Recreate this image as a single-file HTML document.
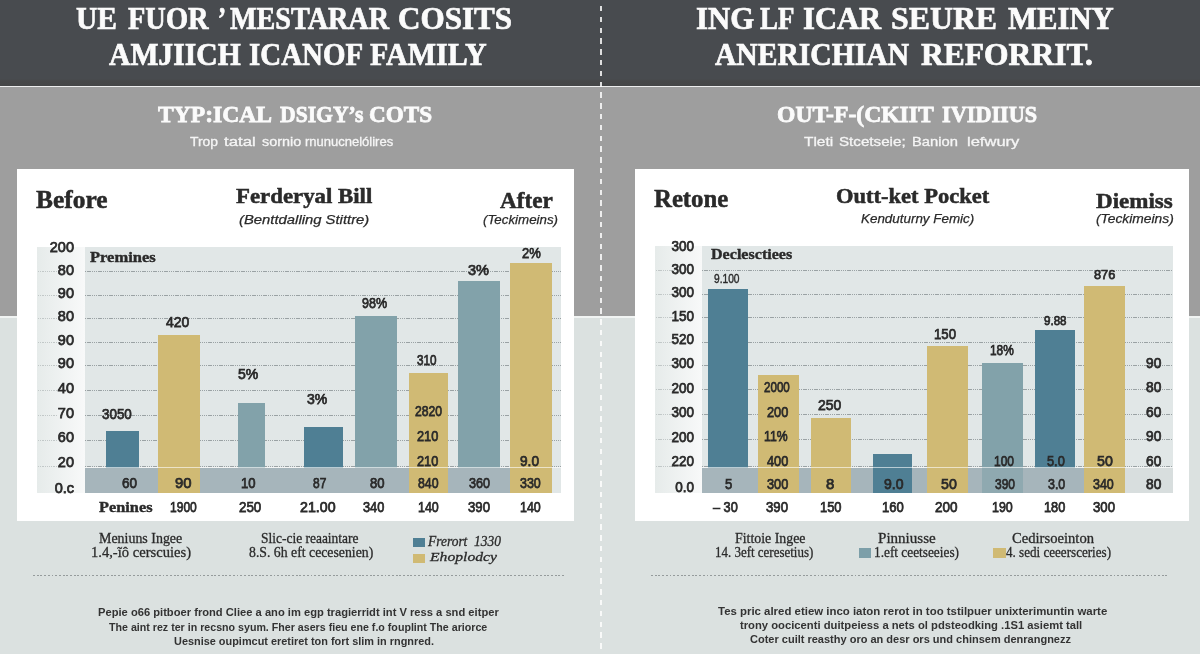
<!DOCTYPE html>
<html lang="en"><head><meta charset="utf-8"><title>Costs infographic</title>
<style>
html,body{margin:0;padding:0}
body{width:1200px;height:654px;position:relative;overflow:hidden;background:#dbe1e0;font-family:"Liberation Sans", sans-serif;color:#2a2a2a}
.r{position:absolute}
.t{position:absolute;white-space:pre;line-height:1;transform-origin:0 50%}
.c{transform-origin:50% 50%}.e{transform-origin:100% 50%}
.sans{font-family:"Liberation Sans", sans-serif}.serif{font-family:"Liberation Serif", serif}
.dot{background-image:repeating-linear-gradient(to right,#9aa2a4 0,#9aa2a4 1.3px,transparent 1.3px,transparent 2.2px)}
.dotl{background-image:repeating-linear-gradient(to right,#c2c8c8 0,#c2c8c8 1.3px,transparent 1.3px,transparent 2.2px)}
.dot2{background-image:repeating-linear-gradient(to right,#959b9c 0,#959b9c 1.9px,transparent 1.9px,transparent 3.7px)}
.divider{position:absolute;left:600px;top:5.9px;width:2px;height:645px;background-image:repeating-linear-gradient(to bottom,rgba(255,255,255,.82) 0,rgba(255,255,255,.82) 5.4px,transparent 5.4px,transparent 10.8px)}
</style></head><body>
<div class="r hdr" style="left:0px;top:0px;width:1200px;height:86px;background:linear-gradient(to bottom,#484b4f 0,#484b4f 79px,#464748 81px,#454647 86px)"></div>
<div class="r subhdr" style="left:0px;top:87px;width:1200px;height:229px;background:#9e9e9e"></div>
<div class="r hl" style="left:0px;top:86px;width:1200px;height:1.3px;background:#ededed"></div>
<div class="r hl" style="left:0px;top:316px;width:1200px;height:1.6px;background:#f1f4f3"></div>
<div class="r card" style="left:17px;top:169px;width:557px;height:351.5px;background:#fff"></div>
<div class="r card" style="left:635px;top:169px;width:554px;height:351.5px;background:#fff"></div>
<div class="r lab" style="left:36.5px;top:247px;width:48px;height:245.75px;background:linear-gradient(to right,#e6ebea,#f8f9f9)"></div>
<div class="r plot" style="left:84.5px;top:247px;width:476.5px;height:245.75px;background:#e1e7e7"></div>
<div class="r bandrow" style="left:84.5px;top:468px;width:467.5px;height:24.75px;background:#a6b5bb"></div>
<div class="r grid dotl" style="left:37.5px;top:270.5px;width:20px;height:1px"></div>
<div class="r grid dot" style="left:84.5px;top:270.5px;width:476.5px;height:1px"></div>
<div class="r grid dotl" style="left:37.5px;top:294.5px;width:20px;height:1px"></div>
<div class="r grid dot" style="left:84.5px;top:294.5px;width:476.5px;height:1px"></div>
<div class="r grid dotl" style="left:37.5px;top:317.5px;width:20px;height:1px"></div>
<div class="r grid dot" style="left:84.5px;top:317.5px;width:476.5px;height:1px"></div>
<div class="r grid dotl" style="left:37.5px;top:342px;width:20px;height:1px"></div>
<div class="r grid dot" style="left:84.5px;top:342px;width:476.5px;height:1px"></div>
<div class="r grid dotl" style="left:37.5px;top:365px;width:20px;height:1px"></div>
<div class="r grid dot" style="left:84.5px;top:365px;width:476.5px;height:1px"></div>
<div class="r grid dotl" style="left:37.5px;top:390px;width:20px;height:1px"></div>
<div class="r grid dot" style="left:84.5px;top:390px;width:476.5px;height:1px"></div>
<div class="r grid dotl" style="left:37.5px;top:414.5px;width:20px;height:1px"></div>
<div class="r grid dot" style="left:84.5px;top:414.5px;width:476.5px;height:1px"></div>
<div class="r grid dotl" style="left:37.5px;top:439.5px;width:20px;height:1px"></div>
<div class="r grid dot" style="left:84.5px;top:439.5px;width:476.5px;height:1px"></div>
<div class="r grid dotl" style="left:37.5px;top:466px;width:20px;height:1px"></div>
<div class="r grid dot" style="left:84.5px;top:466px;width:476.5px;height:1px"></div>
<div class="r bar" style="left:106px;top:431px;width:32.5px;height:36.5px;background:#4f7f94"></div>
<div class="r bar" style="left:158.3px;top:334.5px;width:41.7px;height:133px;background:#d0ba74"></div>
<div class="r bar" style="left:158.3px;top:468px;width:41.7px;height:24.75px;background:#d0ba74"></div>
<div class="r bar" style="left:238px;top:402.5px;width:27px;height:65px;background:#82a2aa"></div>
<div class="r bar" style="left:304px;top:427px;width:39px;height:40.5px;background:#4f7f94"></div>
<div class="r bar" style="left:355px;top:315.5px;width:41.5px;height:152px;background:#82a2aa"></div>
<div class="r bar" style="left:409.25px;top:373px;width:38.75px;height:94.5px;background:#d0ba74"></div>
<div class="r bar" style="left:409.25px;top:468px;width:38.75px;height:24.75px;background:#d0ba74"></div>
<div class="r bar" style="left:457.75px;top:281px;width:41.75px;height:186.5px;background:#82a2aa"></div>
<div class="r bar" style="left:510px;top:263px;width:42px;height:204.5px;background:#d0ba74"></div>
<div class="r bar" style="left:510px;top:468px;width:42px;height:24.75px;background:#d0ba74"></div>
<div class="r hl" style="left:84.5px;top:467px;width:476.5px;height:1px;background:rgba(255,255,255,.6)"></div>
<div class="r sw" style="left:412.5px;top:537.5px;width:12.5px;height:9.25px;background:#4f7f94"></div>
<div class="r sw" style="left:412.5px;top:553.75px;width:12.5px;height:9.25px;background:#d0ba74"></div>
<div class="r rule dot2" style="left:32.5px;top:574.5px;width:531.5px;height:1.5px"></div>
<div class="r lab" style="left:654.5px;top:246.25px;width:47.5px;height:246.75px;background:linear-gradient(to right,#e6ebea,#f8f9f9)"></div>
<div class="r plot" style="left:702px;top:246.25px;width:470.5px;height:246.75px;background:#e1e7e7"></div>
<div class="r bandrow" style="left:702px;top:468px;width:422.5px;height:25px;background:#a6b5bb"></div>
<div class="r grid dotl" style="left:655.5px;top:269.5px;width:20px;height:1px"></div>
<div class="r grid dot" style="left:702px;top:269.5px;width:470.5px;height:1px"></div>
<div class="r grid dotl" style="left:655.5px;top:294px;width:20px;height:1px"></div>
<div class="r grid dot" style="left:702px;top:294px;width:470.5px;height:1px"></div>
<div class="r grid dotl" style="left:655.5px;top:317px;width:20px;height:1px"></div>
<div class="r grid dot" style="left:702px;top:317px;width:470.5px;height:1px"></div>
<div class="r grid dotl" style="left:655.5px;top:342px;width:20px;height:1px"></div>
<div class="r grid dot" style="left:702px;top:342px;width:470.5px;height:1px"></div>
<div class="r grid dotl" style="left:655.5px;top:365px;width:20px;height:1px"></div>
<div class="r grid dot" style="left:702px;top:365px;width:470.5px;height:1px"></div>
<div class="r grid dotl" style="left:655.5px;top:389px;width:20px;height:1px"></div>
<div class="r grid dot" style="left:702px;top:389px;width:470.5px;height:1px"></div>
<div class="r grid dotl" style="left:655.5px;top:414px;width:20px;height:1px"></div>
<div class="r grid dot" style="left:702px;top:414px;width:470.5px;height:1px"></div>
<div class="r grid dotl" style="left:655.5px;top:439px;width:20px;height:1px"></div>
<div class="r grid dot" style="left:702px;top:439px;width:470.5px;height:1px"></div>
<div class="r grid dotl" style="left:655.5px;top:466px;width:20px;height:1px"></div>
<div class="r grid dot" style="left:702px;top:466px;width:470.5px;height:1px"></div>
<div class="r bar" style="left:707.5px;top:289.25px;width:40.5px;height:178.25px;background:#4f7f94"></div>
<div class="r bar" style="left:758.25px;top:374.5px;width:40.25px;height:93px;background:#d0ba74"></div>
<div class="r bar" style="left:758.25px;top:468px;width:40.25px;height:25px;background:#d0ba74"></div>
<div class="r bar" style="left:810.5px;top:418.25px;width:40.5px;height:49.25px;background:#d0ba74"></div>
<div class="r bar" style="left:810.5px;top:468px;width:40.5px;height:25px;background:#d0ba74"></div>
<div class="r bar" style="left:873px;top:453.75px;width:39px;height:13.75px;background:#4f7f94"></div>
<div class="r bar" style="left:873px;top:468px;width:39px;height:25px;background:#4f7f94"></div>
<div class="r bar" style="left:927px;top:346.25px;width:40.5px;height:121.25px;background:#d0ba74"></div>
<div class="r bar" style="left:927px;top:468px;width:40.5px;height:25px;background:#d0ba74"></div>
<div class="r bar" style="left:982px;top:363px;width:40.5px;height:104.5px;background:#82a2aa"></div>
<div class="r bar" style="left:982px;top:468px;width:40.5px;height:25px;background:#8fa9b0"></div>
<div class="r bar" style="left:1035px;top:330px;width:39.5px;height:137.5px;background:#4f7f94"></div>
<div class="r bar" style="left:1083.75px;top:286.25px;width:40.75px;height:181.25px;background:#d0ba74"></div>
<div class="r bar" style="left:1083.75px;top:468px;width:40.75px;height:25px;background:#d0ba74"></div>
<div class="r hl" style="left:702px;top:467px;width:470.5px;height:1px;background:rgba(255,255,255,.6)"></div>
<div class="r bandrow" style="left:1124.5px;top:468px;width:48px;height:25px;background:#d8dede"></div>
<div class="r sw" style="left:858.75px;top:548px;width:12px;height:9.5px;background:#7d9fa9"></div>
<div class="r sw" style="left:992.5px;top:548px;width:13px;height:9.5px;background:#d0ba74"></div>
<div class="r rule dot2" style="left:651px;top:574.5px;width:517.75px;height:1.5px"></div>
<div class="divider"></div>
<span class="t serif" id="t0" style="top:2px;font-size:32px;font-weight:700;color:#fbfbfb;-webkit-text-stroke:0.7px currentColor;left:76px;transform:scaleX(0.9223);">UE</span>
<span class="t serif" id="t1" style="top:2px;font-size:32px;font-weight:700;color:#fbfbfb;-webkit-text-stroke:0.7px currentColor;left:128px;transform:scaleX(0.8880);">FUOR</span>
<span class="t serif" id="t2" style="top:2px;font-size:32px;font-weight:700;color:#fbfbfb;-webkit-text-stroke:0.7px currentColor;left:218px;transform:scaleX(0.7507);">’</span>
<span class="t serif" id="t3" style="top:2px;font-size:32px;font-weight:700;color:#fbfbfb;-webkit-text-stroke:0.7px currentColor;left:230.3px;transform:scaleX(0.8797);">MESTARAR</span>
<span class="t serif" id="t4" style="top:2px;font-size:32px;font-weight:700;color:#fbfbfb;-webkit-text-stroke:0.7px currentColor;left:397.5px;transform:scaleX(0.9720);">COSITS</span>
<span class="t serif" id="t5" style="top:38px;font-size:32px;font-weight:700;color:#fbfbfb;-webkit-text-stroke:0.7px currentColor;left:109.3px;transform:scaleX(0.9260);">AMJIICH</span>
<span class="t serif" id="t6" style="top:38px;font-size:32px;font-weight:700;color:#fbfbfb;-webkit-text-stroke:0.7px currentColor;left:249.3px;transform:scaleX(0.9040);">ICANOF</span>
<span class="t serif" id="t7" style="top:38px;font-size:32px;font-weight:700;color:#fbfbfb;-webkit-text-stroke:0.7px currentColor;left:370.4px;transform:scaleX(0.9369);">FAMILY</span>
<span class="t serif" id="t8" style="top:2px;font-size:32px;font-weight:700;color:#fbfbfb;-webkit-text-stroke:0.7px currentColor;left:695.7px;transform:scaleX(0.9611);">ING</span>
<span class="t serif" id="t9" style="top:2px;font-size:32px;font-weight:700;color:#fbfbfb;-webkit-text-stroke:0.7px currentColor;left:760.2px;transform:scaleX(0.8413);">LF</span>
<span class="t serif" id="t10" style="top:2px;font-size:32px;font-weight:700;color:#fbfbfb;-webkit-text-stroke:0.7px currentColor;left:803px;transform:scaleX(0.9562);">ICAR</span>
<span class="t serif" id="t11" style="top:2px;font-size:32px;font-weight:700;color:#fbfbfb;-webkit-text-stroke:0.7px currentColor;left:890.7px;transform:scaleX(0.9943);">SEURE</span>
<span class="t serif" id="t12" style="top:2px;font-size:32px;font-weight:700;color:#fbfbfb;-webkit-text-stroke:0.7px currentColor;left:1007.6px;transform:scaleX(0.9599);">MEINY</span>
<span class="t serif" id="t13" style="top:38px;font-size:32px;font-weight:700;color:#fbfbfb;-webkit-text-stroke:0.7px currentColor;left:715px;transform:scaleX(0.9247);">ANERICHIAN</span>
<span class="t serif" id="t14" style="top:38px;font-size:32px;font-weight:700;color:#fbfbfb;-webkit-text-stroke:0.7px currentColor;left:921px;transform:scaleX(0.9855);">REFORRIT.</span>
<span class="t serif" id="t15" style="top:102px;font-size:24px;font-weight:700;color:#fbfbfb;-webkit-text-stroke:0.8px currentColor;left:158.3px;transform:scaleX(0.9826);">TYP:ICAL</span>
<span class="t serif" id="t16" style="top:102px;font-size:24px;font-weight:700;color:#fbfbfb;-webkit-text-stroke:0.8px currentColor;left:279.5px;transform:scaleX(0.9019);">DSIGY’s</span>
<span class="t serif" id="t17" style="top:102px;font-size:24px;font-weight:700;color:#fbfbfb;-webkit-text-stroke:0.8px currentColor;left:368.8px;transform:scaleX(0.9654);">COTS</span>
<span class="t serif" id="t18" style="top:102px;font-size:24px;font-weight:700;color:#fbfbfb;-webkit-text-stroke:0.8px currentColor;left:776.5px;transform:scaleX(0.9853);">OUT-F-(CKIIT</span>
<span class="t serif" id="t19" style="top:102px;font-size:24px;font-weight:700;color:#fbfbfb;-webkit-text-stroke:0.8px currentColor;left:942.4px;transform:scaleX(0.9269);">IVIDIIUS</span>
<span class="t sans" id="t20" style="top:136px;font-size:12.3px;color:#f5f5f5;-webkit-text-stroke:0.3px currentColor;left:190.4px;transform:scaleX(1.1278);">Trop</span>
<span class="t sans" id="t21" style="top:136px;font-size:12.3px;color:#f5f5f5;-webkit-text-stroke:0.3px currentColor;left:224.3px;transform:scaleX(1.3634);">tatal</span>
<span class="t sans" id="t22" style="top:136px;font-size:12.3px;color:#f5f5f5;-webkit-text-stroke:0.3px currentColor;left:262px;transform:scaleX(1.1701);">sornio</span>
<span class="t sans" id="t23" style="top:136px;font-size:12.3px;color:#f5f5f5;-webkit-text-stroke:0.3px currentColor;left:305.3px;transform:scaleX(1.0575);">rnunucnelólires</span>
<span class="t sans" id="t24" style="top:136px;font-size:12.3px;color:#f5f5f5;-webkit-text-stroke:0.3px currentColor;left:803.6px;transform:scaleX(1.2525);">Tleti</span>
<span class="t sans" id="t25" style="top:136px;font-size:12.3px;color:#f5f5f5;-webkit-text-stroke:0.3px currentColor;left:838.6px;transform:scaleX(1.2333);">Stcetseie;</span>
<span class="t sans" id="t26" style="top:136px;font-size:12.3px;color:#f5f5f5;-webkit-text-stroke:0.3px currentColor;left:912.3px;transform:scaleX(1.1985);">Banion</span>
<span class="t sans" id="t27" style="top:136px;font-size:12.3px;color:#f5f5f5;-webkit-text-stroke:0.3px currentColor;left:967.3px;transform:scaleX(1.3452);">lefwury</span>
<span class="t sans" id="t28" style="top:315px;font-size:14.5px;-webkit-text-stroke:0.75px currentColor;left:165.85px;transform:scaleX(0.9627);">420</span>
<span class="t sans" id="t29" style="top:407px;font-size:14.5px;-webkit-text-stroke:0.75px currentColor;left:101.6px;transform:scaleX(0.9236);">3050</span>
<span class="t sans" id="t30" style="top:367px;font-size:14.5px;-webkit-text-stroke:0.75px currentColor;left:237.6px;transform:scaleX(0.9681);">5%</span>
<span class="t sans" id="t31" style="top:392px;font-size:14.5px;-webkit-text-stroke:0.75px currentColor;left:307.1px;transform:scaleX(0.9681);">3%</span>
<span class="t sans" id="t32" style="top:296px;font-size:14.5px;-webkit-text-stroke:0.75px currentColor;left:362.1px;transform:scaleX(0.8629);">98%</span>
<span class="t sans" id="t33" style="top:353px;font-size:14.5px;-webkit-text-stroke:0.75px currentColor;left:417.1px;transform:scaleX(0.8077);">310</span>
<span class="t sans" id="t34" style="top:263px;font-size:14.5px;-webkit-text-stroke:0.75px currentColor;left:467.6px;transform:scaleX(1.0039);">3%</span>
<span class="t sans" id="t35" style="top:246px;font-size:14.5px;-webkit-text-stroke:0.75px currentColor;left:521.6px;transform:scaleX(0.8966);">2%</span>
<span class="t sans" id="t36" style="top:404px;font-size:14.5px;-webkit-text-stroke:0.75px currentColor;left:414.6px;transform:scaleX(0.8384);">2820</span>
<span class="t sans" id="t37" style="top:429px;font-size:14.5px;-webkit-text-stroke:0.75px currentColor;left:417.1px;transform:scaleX(0.8801);">210</span>
<span class="t sans" id="t38" style="top:454px;font-size:14.5px;-webkit-text-stroke:0.75px currentColor;left:417.1px;transform:scaleX(0.8801);">210</span>
<span class="t sans" id="t39" style="top:454px;font-size:14.5px;-webkit-text-stroke:0.75px currentColor;left:519.6px;transform:scaleX(0.9444);">9.0</span>
<span class="t sans" id="t40" style="top:476px;font-size:14.5px;-webkit-text-stroke:0.75px currentColor;left:122.1px;transform:scaleX(0.9324);">60</span>
<span class="t sans" id="t41" style="top:476px;font-size:14.5px;-webkit-text-stroke:0.75px currentColor;left:175.1px;transform:scaleX(1.0254);">90</span>
<span class="t sans" id="t42" style="top:476px;font-size:14.5px;-webkit-text-stroke:0.75px currentColor;left:240.85px;transform:scaleX(0.9015);">10</span>
<span class="t sans" id="t43" style="top:476px;font-size:14.5px;-webkit-text-stroke:0.75px currentColor;left:313.35px;transform:scaleX(0.8240);">87</span>
<span class="t sans" id="t44" style="top:476px;font-size:14.5px;-webkit-text-stroke:0.75px currentColor;left:369.6px;transform:scaleX(0.9015);">80</span>
<span class="t sans" id="t45" style="top:476px;font-size:14.5px;-webkit-text-stroke:0.75px currentColor;left:417.85px;transform:scaleX(0.8491);">840</span>
<span class="t sans" id="t46" style="top:476px;font-size:14.5px;-webkit-text-stroke:0.75px currentColor;left:468.85px;transform:scaleX(0.8697);">360</span>
<span class="t sans" id="t47" style="top:476px;font-size:14.5px;-webkit-text-stroke:0.75px currentColor;left:519.6px;transform:scaleX(0.8594);">330</span>
<span class="t sans" id="t48" style="top:500px;font-size:14.5px;-webkit-text-stroke:0.75px currentColor;left:170.35px;transform:scaleX(0.8306);">1900</span>
<span class="t sans" id="t49" style="top:500px;font-size:14.5px;-webkit-text-stroke:0.75px currentColor;left:238.85px;transform:scaleX(0.9214);">250</span>
<span class="t sans" id="t50" style="top:500px;font-size:14.5px;-webkit-text-stroke:0.75px currentColor;left:300.35px;transform:scaleX(0.9794);">21.00</span>
<span class="t sans" id="t51" style="top:500px;font-size:14.5px;-webkit-text-stroke:0.75px currentColor;left:362.85px;transform:scaleX(0.8801);">340</span>
<span class="t sans" id="t52" style="top:500px;font-size:14.5px;-webkit-text-stroke:0.75px currentColor;left:417.85px;transform:scaleX(0.8594);">140</span>
<span class="t sans" id="t53" style="top:500px;font-size:14.5px;-webkit-text-stroke:0.75px currentColor;left:467.85px;transform:scaleX(0.9110);">390</span>
<span class="t sans" id="t54" style="top:500px;font-size:14.5px;-webkit-text-stroke:0.75px currentColor;left:519.6px;transform:scaleX(0.8594);">140</span>
<span class="t serif" id="t55" style="top:499px;font-size:15.5px;font-weight:700;-webkit-text-stroke:0.4px currentColor;left:99px;transform:scaleX(1.0529);">Penines</span>
<span class="t sans e" id="t56" style="top:240px;font-size:14.5px;-webkit-text-stroke:0.75px currentColor;left:74px;transform:translateX(-100%) scaleX(1);">200</span>
<span class="t sans e" id="t57" style="top:263px;font-size:14.5px;-webkit-text-stroke:0.75px currentColor;left:74px;transform:translateX(-100%) scaleX(1);">80</span>
<span class="t sans e" id="t58" style="top:286px;font-size:14.5px;-webkit-text-stroke:0.75px currentColor;left:74px;transform:translateX(-100%) scaleX(1);">90</span>
<span class="t sans e" id="t59" style="top:309px;font-size:14.5px;-webkit-text-stroke:0.75px currentColor;left:74px;transform:translateX(-100%) scaleX(1);">80</span>
<span class="t sans e" id="t60" style="top:333px;font-size:14.5px;-webkit-text-stroke:0.75px currentColor;left:74px;transform:translateX(-100%) scaleX(1);">90</span>
<span class="t sans e" id="t61" style="top:356px;font-size:14.5px;-webkit-text-stroke:0.75px currentColor;left:74px;transform:translateX(-100%) scaleX(1);">90</span>
<span class="t sans e" id="t62" style="top:381px;font-size:14.5px;-webkit-text-stroke:0.75px currentColor;left:74px;transform:translateX(-100%) scaleX(1);">40</span>
<span class="t sans e" id="t63" style="top:406px;font-size:14.5px;-webkit-text-stroke:0.75px currentColor;left:74px;transform:translateX(-100%) scaleX(1);">70</span>
<span class="t sans e" id="t64" style="top:430px;font-size:14.5px;-webkit-text-stroke:0.75px currentColor;left:74px;transform:translateX(-100%) scaleX(1);">60</span>
<span class="t sans e" id="t65" style="top:455px;font-size:14.5px;-webkit-text-stroke:0.75px currentColor;left:74px;transform:translateX(-100%) scaleX(1);">20</span>
<span class="t sans e" id="t66" style="top:481px;font-size:14.5px;-webkit-text-stroke:0.75px currentColor;left:74px;transform:translateX(-100%) scaleX(1);">0.c</span>
<span class="t serif" id="t67" style="top:249px;font-size:15.5px;font-weight:700;-webkit-text-stroke:0.4px currentColor;left:90px;transform:scaleX(1.0656);">Premines</span>
<span class="t serif" id="t68" style="top:188px;font-size:24.5px;font-weight:700;-webkit-text-stroke:0.5px currentColor;left:36px;transform:scaleX(1.0372);">Before</span>
<span class="t serif" id="t69" style="top:185px;font-size:22px;font-weight:700;-webkit-text-stroke:0.5px currentColor;left:236px;transform:scaleX(1.0376);">Ferderyal Bill</span>
<span class="t sans" id="t70" style="top:213px;font-size:13px;font-style:italic;-webkit-text-stroke:0.25px currentColor;left:239px;transform:scaleX(1.1413);">(Benttdalling Stittre)</span>
<span class="t serif" id="t71" style="top:190px;font-size:22.5px;font-weight:700;-webkit-text-stroke:0.5px currentColor;left:500px;transform:scaleX(1.0289);">After</span>
<span class="t sans" id="t72" style="top:213px;font-size:13px;font-style:italic;-webkit-text-stroke:0.25px currentColor;left:482.7px;transform:scaleX(1.0245);">(Teckimeins)</span>
<span class="t serif" id="t73" style="top:532px;font-size:14px;-webkit-text-stroke:0.28px currentColor;left:98.75px;transform:scaleX(0.9959);">Meniuns Ingee</span>
<span class="t serif" id="t74" style="top:546px;font-size:14px;-webkit-text-stroke:0.28px currentColor;left:90.5px;transform:scaleX(1.0413);">1.4,-ĩô cerscuies)</span>
<span class="t serif" id="t75" style="top:532px;font-size:14px;-webkit-text-stroke:0.28px currentColor;left:261.25px;transform:scaleX(0.9612);">Slic-cie reaaintare</span>
<span class="t serif" id="t76" style="top:546px;font-size:14px;-webkit-text-stroke:0.28px currentColor;left:248.75px;transform:scaleX(0.9834);">8.S. 6h eft cecesenien)</span>
<span class="t serif" id="t77" style="top:534px;font-size:14.5px;font-style:italic;-webkit-text-stroke:0.3px currentColor;left:428px;transform:scaleX(0.9277);">Frerort  1330</span>
<span class="t serif" id="t78" style="top:550px;font-size:13.5px;font-style:italic;-webkit-text-stroke:0.3px currentColor;left:430px;transform:scaleX(1.1605);">Ehoplodcy</span>
<span class="t sans" id="t79" style="top:607px;font-size:11px;font-weight:700;color:#333;left:98px;transform:scaleX(1.0149);">Pepie o66 pitboer frond Cliee a ano im egp tragierridt int V ress a snd eitper</span>
<span class="t sans" id="t80" style="top:622px;font-size:11px;font-weight:700;color:#333;left:108.75px;transform:scaleX(0.9684);">The aint rez ter in recsno syum. Fher asers fieu ene f.o fouplint The ariorce</span>
<span class="t sans" id="t81" style="top:636px;font-size:11px;font-weight:700;color:#333;left:173.75px;transform:scaleX(0.9916);">Uesnise oupimcut eretiret ton fort slim in rngnred.</span>
<span class="t sans" id="t82" style="top:273px;font-size:12.5px;-webkit-text-stroke:0.4px currentColor;left:713.5px;transform:scaleX(0.8152);">9.100</span>
<span class="t sans" id="t83" style="top:380px;font-size:14.5px;-webkit-text-stroke:0.75px currentColor;left:763.85px;transform:scaleX(0.7996);">2000</span>
<span class="t sans" id="t84" style="top:405px;font-size:14.5px;-webkit-text-stroke:0.75px currentColor;left:767.1px;transform:scaleX(0.8801);">200</span>
<span class="t sans" id="t85" style="top:429px;font-size:14.5px;-webkit-text-stroke:0.75px currentColor;left:763.85px;transform:scaleX(0.8425);">11%</span>
<span class="t sans" id="t86" style="top:454px;font-size:14.5px;-webkit-text-stroke:0.75px currentColor;left:767.1px;transform:scaleX(0.8801);">400</span>
<span class="t sans" id="t87" style="top:398px;font-size:14.5px;-webkit-text-stroke:0.75px currentColor;left:818.35px;transform:scaleX(0.9627);">250</span>
<span class="t sans" id="t88" style="top:327px;font-size:14.5px;-webkit-text-stroke:0.75px currentColor;left:933.85px;transform:scaleX(0.9110);">150</span>
<span class="t sans" id="t89" style="top:343px;font-size:14.5px;-webkit-text-stroke:0.75px currentColor;left:989.6px;transform:scaleX(0.8198);">18%</span>
<span class="t sans" id="t90" style="top:314px;font-size:13.5px;-webkit-text-stroke:0.75px currentColor;left:1044.1px;transform:scaleX(0.8580);">9.88</span>
<span class="t sans" id="t91" style="top:268px;font-size:13.5px;-webkit-text-stroke:0.75px currentColor;left:1094.1px;transform:scaleX(0.9454);">876</span>
<span class="t sans" id="t92" style="top:454px;font-size:14.5px;-webkit-text-stroke:0.75px currentColor;left:994.1px;transform:scaleX(0.8284);">100</span>
<span class="t sans" id="t93" style="top:454px;font-size:14.5px;-webkit-text-stroke:0.75px currentColor;left:1047.1px;transform:scaleX(0.8824);">5.0</span>
<span class="t sans" id="t94" style="top:454px;font-size:14.5px;-webkit-text-stroke:0.75px currentColor;left:1097.1px;transform:scaleX(0.9789);">50</span>
<span class="t sans" id="t95" style="top:356px;font-size:14.5px;-webkit-text-stroke:0.75px currentColor;left:1145.85px;transform:scaleX(0.9479);">90</span>
<span class="t sans" id="t96" style="top:380px;font-size:14.5px;-webkit-text-stroke:0.75px currentColor;left:1145.85px;transform:scaleX(0.9479);">80</span>
<span class="t sans" id="t97" style="top:405px;font-size:14.5px;-webkit-text-stroke:0.75px currentColor;left:1145.85px;transform:scaleX(0.9479);">60</span>
<span class="t sans" id="t98" style="top:429px;font-size:14.5px;-webkit-text-stroke:0.75px currentColor;left:1145.85px;transform:scaleX(0.9479);">90</span>
<span class="t sans" id="t99" style="top:454px;font-size:14.5px;-webkit-text-stroke:0.75px currentColor;left:1145.85px;transform:scaleX(0.9479);">60</span>
<span class="t sans" id="t100" style="top:477px;font-size:14.5px;-webkit-text-stroke:0.75px currentColor;left:1145.85px;transform:scaleX(0.9479);">80</span>
<span class="t sans" id="t101" style="top:477px;font-size:14.5px;-webkit-text-stroke:0.75px currentColor;left:725.1px;transform:scaleX(0.9037);">5</span>
<span class="t sans" id="t102" style="top:477px;font-size:14.5px;-webkit-text-stroke:0.75px currentColor;left:767.1px;transform:scaleX(0.8801);">300</span>
<span class="t sans" id="t103" style="top:477px;font-size:14.5px;-webkit-text-stroke:0.75px currentColor;left:825.85px;transform:scaleX(1.0275);">8</span>
<span class="t sans" id="t104" style="top:477px;font-size:14.5px;-webkit-text-stroke:0.75px currentColor;left:883.85px;transform:scaleX(0.9692);">9.0</span>
<span class="t sans" id="t105" style="top:477px;font-size:14.5px;-webkit-text-stroke:0.75px currentColor;left:940.85px;transform:scaleX(0.9789);">50</span>
<span class="t sans" id="t106" style="top:477px;font-size:14.5px;-webkit-text-stroke:0.75px currentColor;left:995.35px;transform:scaleX(0.8284);">390</span>
<span class="t sans" id="t107" style="top:477px;font-size:14.5px;-webkit-text-stroke:0.75px currentColor;left:1047.6px;transform:scaleX(0.8576);">3.0</span>
<span class="t sans" id="t108" style="top:477px;font-size:14.5px;-webkit-text-stroke:0.75px currentColor;left:1092.85px;transform:scaleX(0.8594);">340</span>
<span class="t sans" id="t109" style="top:500px;font-size:14.5px;-webkit-text-stroke:0.75px currentColor;left:712.6px;transform:scaleX(0.8784);">– 30</span>
<span class="t sans" id="t110" style="top:500px;font-size:14.5px;-webkit-text-stroke:0.75px currentColor;left:766.35px;transform:scaleX(0.9110);">390</span>
<span class="t sans" id="t111" style="top:500px;font-size:14.5px;-webkit-text-stroke:0.75px currentColor;left:819.6px;transform:scaleX(0.8904);">150</span>
<span class="t sans" id="t112" style="top:500px;font-size:14.5px;-webkit-text-stroke:0.75px currentColor;left:881.6px;transform:scaleX(0.9007);">160</span>
<span class="t sans" id="t113" style="top:500px;font-size:14.5px;-webkit-text-stroke:0.75px currentColor;left:935.35px;transform:scaleX(0.9317);">200</span>
<span class="t sans" id="t114" style="top:500px;font-size:14.5px;-webkit-text-stroke:0.75px currentColor;left:992.1px;transform:scaleX(0.8594);">190</span>
<span class="t sans" id="t115" style="top:500px;font-size:14.5px;-webkit-text-stroke:0.75px currentColor;left:1044.1px;transform:scaleX(0.8801);">180</span>
<span class="t sans" id="t116" style="top:500px;font-size:14.5px;-webkit-text-stroke:0.75px currentColor;left:1092.85px;transform:scaleX(0.9110);">300</span>
<span class="t sans e" id="t117" style="top:239px;font-size:14.5px;-webkit-text-stroke:0.75px currentColor;left:693.5px;transform:translateX(-100%) scaleX(0.93);">300</span>
<span class="t sans e" id="t118" style="top:262px;font-size:14.5px;-webkit-text-stroke:0.75px currentColor;left:693.5px;transform:translateX(-100%) scaleX(0.93);">300</span>
<span class="t sans e" id="t119" style="top:285px;font-size:14.5px;-webkit-text-stroke:0.75px currentColor;left:693.5px;transform:translateX(-100%) scaleX(0.93);">300</span>
<span class="t sans e" id="t120" style="top:309px;font-size:14.5px;-webkit-text-stroke:0.75px currentColor;left:693.5px;transform:translateX(-100%) scaleX(0.93);">150</span>
<span class="t sans e" id="t121" style="top:332px;font-size:14.5px;-webkit-text-stroke:0.75px currentColor;left:693.5px;transform:translateX(-100%) scaleX(0.93);">520</span>
<span class="t sans e" id="t122" style="top:356px;font-size:14.5px;-webkit-text-stroke:0.75px currentColor;left:693.5px;transform:translateX(-100%) scaleX(0.93);">300</span>
<span class="t sans e" id="t123" style="top:381px;font-size:14.5px;-webkit-text-stroke:0.75px currentColor;left:693.5px;transform:translateX(-100%) scaleX(0.93);">200</span>
<span class="t sans e" id="t124" style="top:405px;font-size:14.5px;-webkit-text-stroke:0.75px currentColor;left:693.5px;transform:translateX(-100%) scaleX(0.93);">300</span>
<span class="t sans e" id="t125" style="top:430px;font-size:14.5px;-webkit-text-stroke:0.75px currentColor;left:693.5px;transform:translateX(-100%) scaleX(0.93);">200</span>
<span class="t sans e" id="t126" style="top:454px;font-size:14.5px;-webkit-text-stroke:0.75px currentColor;left:693.5px;transform:translateX(-100%) scaleX(0.93);">220</span>
<span class="t sans e" id="t127" style="top:480px;font-size:14.5px;-webkit-text-stroke:0.75px currentColor;left:693.5px;transform:translateX(-100%) scaleX(0.93);">0.0</span>
<span class="t serif" id="t128" style="top:246px;font-size:15.5px;font-weight:700;-webkit-text-stroke:0.4px currentColor;left:711.25px;transform:scaleX(1.0375);">Declesctiees</span>
<span class="t serif" id="t129" style="top:187px;font-size:24.5px;font-weight:700;-webkit-text-stroke:0.5px currentColor;left:653.75px;transform:scaleX(1.0104);">Retone</span>
<span class="t serif" id="t130" style="top:185px;font-size:22px;font-weight:700;-webkit-text-stroke:0.5px currentColor;left:836.25px;transform:scaleX(1.0238);">Outt-ket Pocket</span>
<span class="t sans" id="t131" style="top:212px;font-size:13px;font-style:italic;-webkit-text-stroke:0.25px currentColor;left:860.75px;transform:scaleX(1.0312);">Kenduturny Femic)</span>
<span class="t serif" id="t132" style="top:190px;font-size:22px;font-weight:700;-webkit-text-stroke:0.5px currentColor;left:1095.75px;transform:scaleX(1.0467);">Diemiss</span>
<span class="t sans" id="t133" style="top:212px;font-size:13px;font-style:italic;-webkit-text-stroke:0.25px currentColor;left:1096px;transform:scaleX(1.0621);">(Teckimeins)</span>
<span class="t serif" id="t134" style="top:532px;font-size:14px;-webkit-text-stroke:0.28px currentColor;left:734.5px;transform:scaleX(0.9908);">Fittoie Ingee</span>
<span class="t serif" id="t135" style="top:546px;font-size:14px;-webkit-text-stroke:0.28px currentColor;left:715px;transform:scaleX(0.9258);">14. 3eft ceresetius)</span>
<span class="t serif" id="t136" style="top:532px;font-size:14px;-webkit-text-stroke:0.28px currentColor;left:878px;transform:scaleX(1.0757);">Pinniusse</span>
<span class="t serif" id="t137" style="top:546px;font-size:14px;-webkit-text-stroke:0.28px currentColor;left:873.75px;transform:scaleX(0.9509);">1.eft ceetseeies)</span>
<span class="t serif" id="t138" style="top:532px;font-size:14px;-webkit-text-stroke:0.28px currentColor;left:1011.75px;transform:scaleX(1.0440);">Cedirsoeinton</span>
<span class="t serif" id="t139" style="top:546px;font-size:14px;-webkit-text-stroke:0.28px currentColor;left:1006.25px;transform:scaleX(0.9348);">4. sedi ceeersceries)</span>
<span class="t sans" id="t140" style="top:606px;font-size:11px;font-weight:700;color:#333;left:718.25px;transform:scaleX(1.0378);">Tes pric alred etiew inco iaton rerot in too tstilpuer unixterimuntin warte</span>
<span class="t sans" id="t141" style="top:620px;font-size:11px;font-weight:700;color:#333;left:739.5px;transform:scaleX(1.0217);">trony oocicenti duitpeiess a nets ol pdsteodking .1S1 asiemt tall</span>
<span class="t sans" id="t142" style="top:634px;font-size:11px;font-weight:700;color:#333;left:750px;transform:scaleX(1.0003);">Coter cuilt reasthy oro an desr ors und chinsem denrangnezz</span>
</body></html>
